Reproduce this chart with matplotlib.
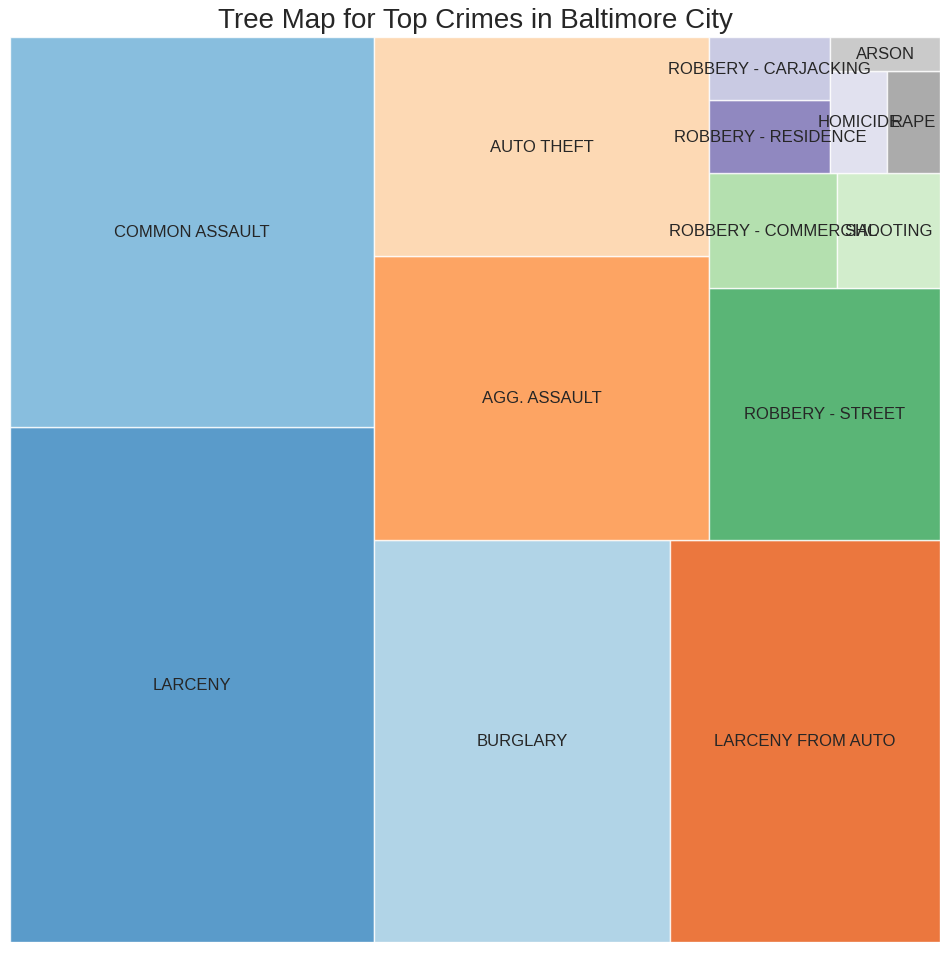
import matplotlib
matplotlib.use('Agg')
import matplotlib.pyplot as plt
import seaborn as sns
import numpy as np

sns.set_theme()
plt.rcParams['font.family'] = ['Liberation Sans', 'DejaVu Sans']

crimes = ['LARCENY', 'COMMON ASSAULT', 'BURGLARY', 'LARCENY FROM AUTO',
          'AGG. ASSAULT', 'AUTO THEFT', 'ROBBERY - STREET', 'ROBBERY - COMMERCIAL',
          'SHOOTING', 'ROBBERY - RESIDENCE', 'ROBBERY - CARJACKING', 'HOMICIDE',
          'RAPE', 'ARSON']
counts = [61600, 46600, 39100, 35700, 31300, 24100, 19100, 4840,
          3890, 2900, 2500, 1900, 1760, 1220]


# small port of the squarify layout (package is not available here)
def layoutrow(sizes, x, y, dx, dy):
    width = sum(sizes) / dy
    rects = []
    for s in sizes:
        rects.append((x, y, width, s / width))
        y += s / width
    return rects


def layoutcol(sizes, x, y, dx, dy):
    height = sum(sizes) / dx
    rects = []
    for s in sizes:
        rects.append((x, y, s / height, height))
        x += s / height
    return rects


def layout(sizes, x, y, dx, dy):
    return layoutrow(sizes, x, y, dx, dy) if dx >= dy else layoutcol(sizes, x, y, dx, dy)


def leftover(sizes, x, y, dx, dy):
    if dx >= dy:
        width = sum(sizes) / dy
        return x + width, y, dx - width, dy
    height = sum(sizes) / dx
    return x, y + height, dx, dy - height


def worst_ratio(sizes, x, y, dx, dy):
    return max(max(r[2] / r[3], r[3] / r[2]) for r in layout(sizes, x, y, dx, dy))


def squarify(sizes, x, y, dx, dy):
    if len(sizes) == 0:
        return []
    if len(sizes) == 1:
        return layout(sizes, x, y, dx, dy)
    i = 1
    while i < len(sizes) and worst_ratio(sizes[:i], x, y, dx, dy) >= worst_ratio(sizes[:i + 1], x, y, dx, dy):
        i += 1
    cur, rest = sizes[:i], sizes[i:]
    lx, ly, ldx, ldy = leftover(cur, x, y, dx, dy)
    return layout(cur, x, y, dx, dy) + squarify(rest, lx, ly, ldx, ldy)


total = float(sum(counts))
sizes = [c * 100 * 100 / total for c in counts]
rects = squarify(sizes, 0, 0, 100, 100)

colors = plt.cm.tab20c(np.arange(len(crimes)) / len(crimes))

fig = plt.figure(figsize=(9.5, 9.54), dpi=100)
ax = fig.add_axes([10 / 950, 11 / 954, 930 / 950, 905 / 954])
for (x, y, dx, dy), lab, col in zip(rects, crimes, colors):
    ax.bar(x, dy, width=dx, bottom=y, align='edge', color=col, alpha=0.8,
           edgecolor='white', linewidth=1)
    ax.text(x + dx / 2, y + dy / 2, lab, ha='center', va='center', fontsize=12, color='.15')
ax.set_xlim(0, 100)
ax.set_ylim(0, 100)
ax.axis('off')
fig.text(0.5, 1 - 21 / 954, 'Tree Map for Top Crimes in Baltimore City',
         ha='center', va='center', fontsize=20, color='.15')
fig.savefig('out.png')
